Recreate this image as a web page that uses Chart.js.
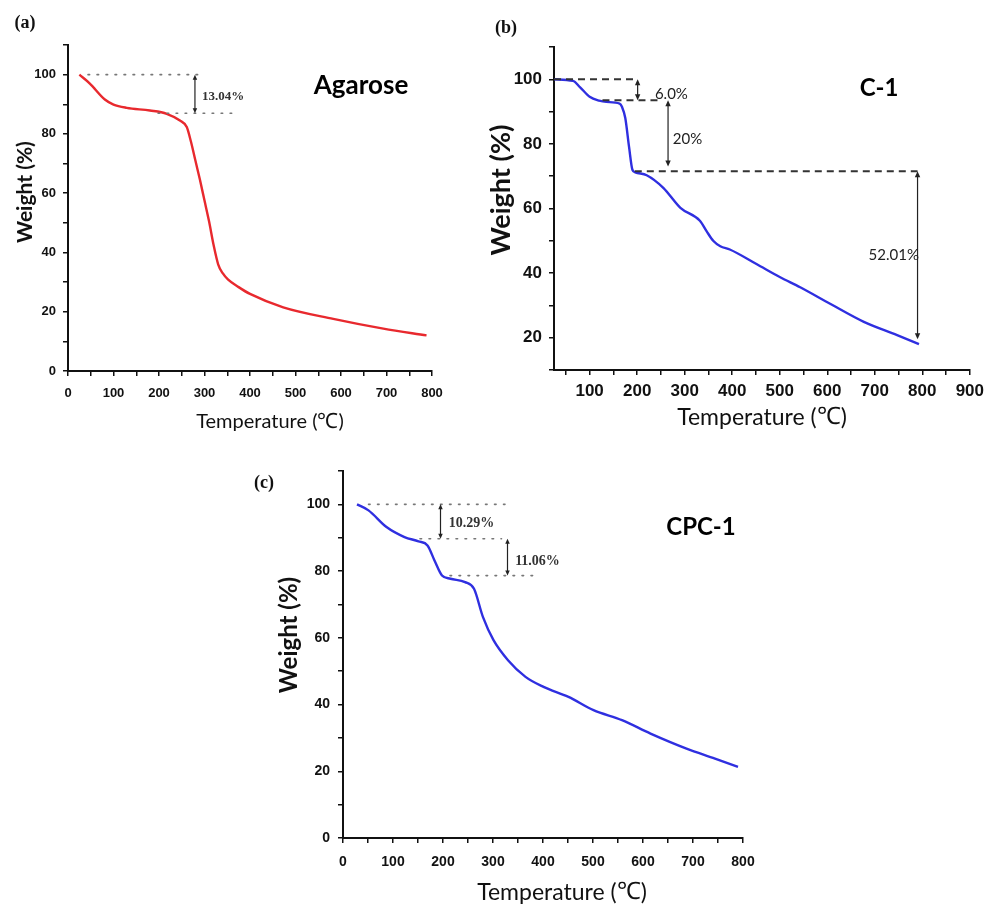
<!DOCTYPE html>
<html><head><meta charset="utf-8">
<script src="https://cdn.jsdelivr.net/npm/chart.js@4.4.1/dist/chart.umd.min.js"></script>
<style>
html,body{margin:0;padding:0;background:#fff;width:990px;height:908px;overflow:hidden;}
canvas{position:absolute;}
</style></head><body>
<canvas id="ca" width="480" height="445" style="left:0px;top:0px"></canvas>
<canvas id="cb" width="510" height="445" style="left:480px;top:0px"></canvas>
<canvas id="cc" width="540" height="458" style="left:240px;top:450px"></canvas>
<script>
// ---------- data ----------
const agaroseTemp   = [25, 48, 81, 100, 129, 180, 217, 246, 261, 270, 280, 290, 300, 310, 320, 330, 340, 352, 375, 400, 473, 583, 693, 788];
const agaroseWeight = [100, 97, 91.6, 89.9, 88.8, 87.9, 86.8, 84.5, 82.3, 77.5, 71, 64.5, 57.5, 50.5, 42.5, 36, 33, 30.8, 28.3, 26, 21.5, 17.6, 14.3, 12];

const c1Temp   = [25, 65, 80, 100, 120, 135, 163, 168, 175, 183, 190, 196, 220, 255, 291, 332, 346, 360, 375, 395, 451, 501, 543, 606, 677, 747, 793];
const c1Weight = [100, 99.5, 97.5, 94.6, 93.4, 93, 92.5, 91.5, 88, 79, 72, 71.2, 70.3, 66.4, 60.2, 56.2, 53, 50, 48.3, 47.3, 42.8, 38.7, 35.6, 30.5, 24.9, 20.8, 18];

const cpcTemp   = [28, 51, 87, 123, 151, 169, 183, 198, 215, 244, 262, 280, 301, 330, 365, 401, 451, 501, 558, 615, 687, 744, 790];
const cpcWeight = [100, 98.2, 93.2, 90.2, 88.9, 87.7, 83.2, 78.7, 77.7, 76.7, 74.7, 66.2, 59.3, 53.3, 48.3, 45.3, 42.3, 38.3, 35.3, 31.3, 26.8, 23.8, 21.3];

// ---------- ticks ----------
const tempTicks800   = [0,50,100,150,200,250,300,350,400,450,500,550,600,650,700,750,800];
const tempLabels800  = ['0','100','200','300','400','500','600','700','800'];
const tempTicks900   = [50,100,150,200,250,300,350,400,450,500,550,600,650,700,750,800,850,900];
const tempLabels900  = ['100','200','300','400','500','600','700','800','900'];
const weightTicks0   = [0,10,20,30,40,50,60,70,80,90,100,110];
const weightLabels0  = ['0','20','40','60','80','100'];
const weightTicks10  = [10,20,30,40,50,60,70,80,90,100,110];
const weightLabels10 = ['20','40','60','80','100'];

// ---------- annotations (weight level, from T, to T) ----------
const agaroseGuideLevel = [100, 86.96];
const agaroseGuideFrom  = [44, 198];
const agaroseGuideTo    = [301, 363];
const agaroseArrowT     = [279];
const agaroseArrowTop   = [100];
const agaroseArrowBot   = [86.96];
const agaroseNoteText   = ['13.04%'];
const agaroseNoteT      = [341];
const agaroseNoteW      = [92.5];

const c1GuideLevel = [100, 93.5, 71.5];
const c1GuideFrom  = [25, 127, 195];
const c1GuideTo    = [200, 251, 790];
const c1ArrowT     = [201, 265, 790];
const c1ArrowTop   = [100, 93.5, 71.5];
const c1ArrowBot   = [93.5, 73, 19.5];
const c1NoteText   = ['6.0%', '20%', '52.01%'];
const c1NoteT      = [272, 306, 740];
const c1NoteW      = [95.4, 81.5, 45.5];

const cpcGuideLevel = [100, 89.71, 78.65];
const cpcGuideFrom  = [51, 154, 214];
const cpcGuideTo    = [324, 317, 381];
const cpcArrowT     = [195, 329];
const cpcArrowTop   = [100, 89.71];
const cpcArrowBot   = [89.71, 78.65];
const cpcNoteText   = ['10.29%', '11.06%'];
const cpcNoteT      = [257, 389];
const cpcNoteW      = [94.2, 82.9];

const SANS = 'Lato, "Open Sans", sans-serif';
const ARIAL = '"Liberation Sans", Arial, sans-serif';
const SERIF = '"Liberation Serif", "Times New Roman", serif';

function drawText(ctx, s, x, y, font, color, rot) {
  ctx.save();
  ctx.translate(x, y);
  if (rot) ctx.rotate(rot);
  ctx.font = font; ctx.fillStyle = color;
  ctx.textAlign = 'center'; ctx.textBaseline = 'middle';
  ctx.fillText(s, 0, 0);
  ctx.restore();
}
function drawTempTitle(ctx, cx, cy, size) {
  const f1 = size + 'px ' + SANS, f2 = (size + 1) + 'px ' + SERIF;
  ctx.save();
  ctx.textBaseline = 'middle'; ctx.textAlign = 'left'; ctx.fillStyle = '#111';
  ctx.font = f1; const w1 = ctx.measureText('Temperature (').width; const w3 = ctx.measureText(')').width;
  ctx.font = f2; const w2 = ctx.measureText('\u2103').width;
  let x = cx - (w1 + w2 + w3) / 2;
  ctx.font = f1; ctx.fillText('Temperature (', x, cy); x += w1;
  ctx.font = f2; ctx.fillText('\u2103', x, cy); x += w2;
  ctx.font = f1; ctx.fillText(')', x, cy);
  ctx.restore();
}

const decoPlugin = {
  id: 'deco',
  afterDraw(chart, args, o) {
    const ctx = chart.ctx, xs = chart.scales.x, ys = chart.scales.y;
    const X = v => xs.getPixelForValue(v), Y = v => ys.getPixelForValue(v);
    ctx.save();
    ctx.setLineDash(o.dash); ctx.lineWidth = o.guideWidth; ctx.strokeStyle = o.guideColor; ctx.lineCap = o.cap;
    o.level.forEach((lv, i) => {
      ctx.beginPath(); ctx.moveTo(X(o.from[i]), Y(lv)); ctx.lineTo(X(o.to[i]), Y(lv)); ctx.stroke();
    });
    ctx.setLineDash([]); ctx.lineCap = 'butt';
    ctx.strokeStyle = '#222'; ctx.fillStyle = '#222'; ctx.lineWidth = 1.2;
    o.arrowT.forEach((t, i) => {
      const x = X(t), y1 = Y(o.arrowTop[i]), y2 = Y(o.arrowBot[i]);
      const h = o.head, w = o.head * 0.45;
      ctx.beginPath(); ctx.moveTo(x, y1 + h * 0.5); ctx.lineTo(x, y2 - h * 0.5); ctx.stroke();
      ctx.beginPath(); ctx.moveTo(x, y1); ctx.lineTo(x - w, y1 + h); ctx.lineTo(x + w, y1 + h); ctx.closePath(); ctx.fill();
      ctx.beginPath(); ctx.moveTo(x, y2); ctx.lineTo(x - w, y2 - h); ctx.lineTo(x + w, y2 - h); ctx.closePath(); ctx.fill();
    });
    o.noteText.forEach((s, i) => drawText(ctx, s, X(o.noteT[i]), Y(o.noteW[i]), o.noteFont, o.noteColor, 0));
    const L = p => p[0] - o.ox, T = p => p[1] - o.oy;
    drawText(ctx, o.panel, L(o.panelPos), T(o.panelPos), 'bold ' + o.panelSize + 'px ' + SERIF, '#111', 0);
    drawText(ctx, o.name, L(o.namePos), T(o.namePos), 'bold ' + o.nameSize + 'px ' + SANS, '#000', 0);
    drawTempTitle(ctx, L(o.xTitlePos), T(o.xTitlePos), o.xTitleSize);
    drawText(ctx, 'Weight (%)', L(o.yTitlePos), T(o.yTitlePos), 'bold ' + o.yTitleSize + 'px ' + SANS, '#111', -Math.PI / 2);
    ctx.restore();
  }
};

function axis(min, max, ticks, labels, size, pad, fitProp, fitVal) {
  return {
    type: 'linear', min: min, max: max,
    afterBuildTicks: s => { s.ticks = ticks.map(v => ({ value: v })); },
    afterFit: s => { s[fitProp] = fitVal; },
    ticks: {
      autoSkip: false, maxRotation: 0, padding: pad, color: '#111',
      font: { family: ARIAL, size: size, weight: 'bold' },
      callback: v => labels.includes(String(v)) ? String(v) : ''
    },
    grid: { display: true, drawOnChartArea: false, drawTicks: true, tickLength: 5, color: '#111', lineWidth: 1.5 },
    border: { display: true, color: '#111', width: 2 }
  };
}

function makeChart(id, temps, weights, color, xAx, yAx, padding, deco) {
  const pts = temps.map((t, i) => ({ x: t, y: weights[i] }));
  return new Chart(document.getElementById(id), {
    type: 'scatter',
    data: { datasets: [{ data: pts, showLine: true, borderColor: color, borderWidth: 2.4, pointRadius: 0, cubicInterpolationMode: 'monotone', fill: false }] },
    options: {
      responsive: false, animation: false, devicePixelRatio: 1,
      layout: { padding: padding },
      plugins: { legend: { display: false }, tooltip: { enabled: false }, deco: deco },
      scales: { x: xAx, y: yAx }
    },
    plugins: [decoPlugin]
  });
}

// (a) Agarose — chart area page: left 68, right 432, top 45, bottom 371
makeChart('ca', agaroseTemp, agaroseWeight, '#e8292e',
  axis(0, 800, tempTicks800, tempLabels800, 13, 10, 'height', 40),
  axis(0, 110, weightTicks0, weightLabels0, 13, 7, 'width', 68),
  { left: 0, top: 45, right: 48, bottom: 445 - 371 - 40 },
  { ox: 0, oy: 0, level: agaroseGuideLevel, from: agaroseGuideFrom, to: agaroseGuideTo,
    dash: [1.6, 7.4], guideWidth: 1.6, guideColor: '#777', cap: 'round',
    arrowT: agaroseArrowT, arrowTop: agaroseArrowTop, arrowBot: agaroseArrowBot, head: 5,
    noteText: agaroseNoteText, noteT: agaroseNoteT, noteW: agaroseNoteW,
    noteFont: 'bold 13px ' + SERIF, noteColor: '#333',
    panel: '(a)', panelPos: [25, 23], panelSize: 18,
    name: 'Agarose', namePos: [361, 86], nameSize: 26,
    xTitlePos: [270, 422], xTitleSize: 20,
    yTitlePos: [25, 192], yTitleSize: 21 });

// (b) C-1 — chart area page: left 554, right 970, top 47, bottom 370
makeChart('cb', c1Temp, c1Weight, '#2f2fe0',
  axis(25, 900, tempTicks900, tempLabels900, 17, 6, 'height', 40),
  axis(10, 110, weightTicks10, weightLabels10, 17, 7, 'width', 74),
  { left: 0, top: 47, right: 510 - 490, bottom: 445 - 370 - 40 },
  { ox: 480, oy: 0, level: c1GuideLevel, from: c1GuideFrom, to: c1GuideTo,
    dash: [7, 5], guideWidth: 2, guideColor: '#333', cap: 'butt',
    arrowT: c1ArrowT, arrowTop: c1ArrowTop, arrowBot: c1ArrowBot, head: 6,
    noteText: c1NoteText, noteT: c1NoteT, noteW: c1NoteW,
    noteFont: '15px ' + SANS, noteColor: '#222',
    panel: '(b)', panelPos: [506, 28], panelSize: 18,
    name: 'C-1', namePos: [879, 88], nameSize: 24,
    xTitlePos: [762, 418], xTitleSize: 23,
    yTitlePos: [501, 190], yTitleSize: 27 });

// (c) CPC-1 — chart area page: left 343, right 743, top 471, bottom 838
makeChart('cc', cpcTemp, cpcWeight, '#2f2fe0',
  axis(0, 800, tempTicks800, tempLabels800, 14, 11, 'height', 40),
  axis(0, 110, weightTicks0, weightLabels0, 14, 8, 'width', 103),
  { left: 0, top: 21, right: 540 - 503, bottom: 458 - 388 - 40 },
  { ox: 240, oy: 450, level: cpcGuideLevel, from: cpcGuideFrom, to: cpcGuideTo,
    dash: [1.6, 7.4], guideWidth: 1.6, guideColor: '#777', cap: 'round',
    arrowT: cpcArrowT, arrowTop: cpcArrowTop, arrowBot: cpcArrowBot, head: 5,
    noteText: cpcNoteText, noteT: cpcNoteT, noteW: cpcNoteW,
    noteFont: 'bold 14px ' + SERIF, noteColor: '#333',
    panel: '(c)', panelPos: [264, 483], panelSize: 18,
    name: 'CPC-1', namePos: [701, 527], nameSize: 24,
    xTitlePos: [562, 893], xTitleSize: 23,
    yTitlePos: [289, 635], yTitleSize: 24 });
</script>
</body></html>
